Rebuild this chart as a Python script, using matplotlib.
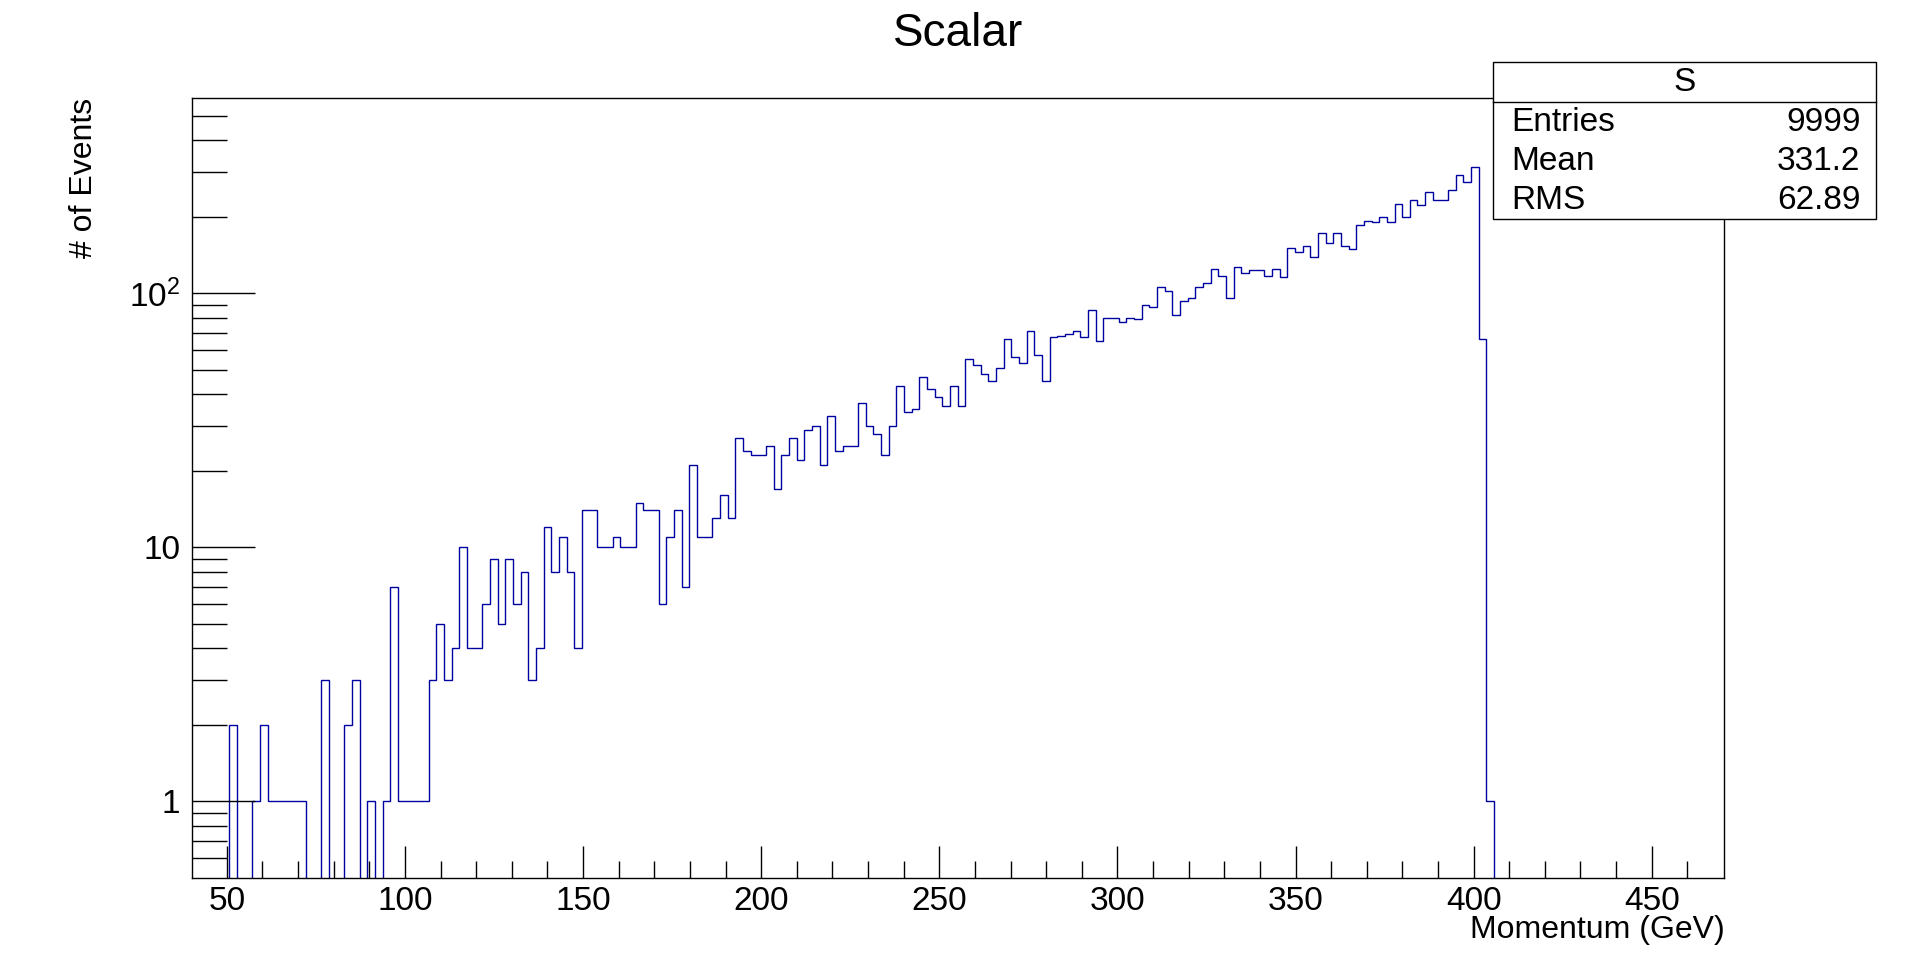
import numpy as np
import matplotlib as mpl
mpl.use('Agg')
import matplotlib.pyplot as plt
from matplotlib.ticker import FixedLocator, FixedFormatter, NullFormatter

plt.rcParams['font.family'] = ['Liberation Sans', 'DejaVu Sans']
plt.rcParams['mathtext.fontset'] = 'custom'
plt.rcParams['mathtext.rm'] = 'Liberation Sans'
plt.rcParams['mathtext.it'] = 'Liberation Sans'

## histogram contents, 165 bins from 50.73
first_edge = 50.73
bin_width = 2.1517
counts = [
    2, 0, 0, 1, 2, 1, 1, 1, 1, 1,
    0, 0, 3, 0, 0, 2, 3, 0, 1, 0,
    1, 7, 1, 1, 1, 1, 3, 5, 3, 4,
    10, 4, 4, 6, 9, 5, 9, 6, 8, 3,
    4, 12, 8, 11, 8, 4, 14, 14, 10, 10,
    11, 10, 10, 15, 14, 14, 6, 11, 14, 7,
    21, 11, 11, 13, 16, 13, 27, 24, 23, 23,
    25, 17, 23, 27, 22, 29, 30, 21, 33, 24,
    25, 25, 37, 30, 28, 23, 30, 43, 34, 35,
    47, 42, 39, 36, 43, 36, 55, 52, 48, 45,
    51, 66, 56, 53, 71, 57, 45, 67, 68, 69,
    71, 67, 86, 65, 80, 80, 77, 80, 79, 90,
    88, 106, 102, 82, 93, 96, 106, 110, 124, 117,
    96, 127, 120, 123, 123, 117, 125, 116, 150, 145,
    153, 139, 173, 157, 173, 154, 149, 186, 193, 191,
    200, 191, 225, 199, 232, 223, 251, 232, 232, 254,
    293, 273, 313, 66, 1,
]
counts = np.array(counts, dtype=float)
edges = first_edge + bin_width * np.arange(len(counts) + 1)

title = 'Scalar'
xlabel = 'Momentum (GeV)'
ylabel = '# of Events'
stats_name = 'S'
stats_rows = [('Entries', '9999'), ('Mean', '331.2'), ('RMS', '62.89')]

fig = plt.figure(figsize=(19.16, 9.75), dpi=100)
ax = fig.add_axes([0.1, 0.1, 0.8, 0.8])

# zero bins go down to the frame, like ROOT
plot_vals = np.where(counts > 0, counts, 1e-3)
ax.stairs(plot_vals, edges, baseline=1e-3, color='#0000a0', linewidth=1.0)

ax.set_yscale('log')
ax.set_xlim(40.1, 470.4)
ax.set_ylim(0.502, 589)

ax.xaxis.set_major_locator(FixedLocator(np.arange(50, 451, 50)))
ax.xaxis.set_minor_locator(FixedLocator(np.arange(50, 470, 10)))
ax.yaxis.set_major_locator(FixedLocator([1, 10, 100]))
ax.yaxis.set_major_formatter(FixedFormatter(['1', '10', r'$10^{2}$']))
minors = [m * 10 ** d for d in (-1, 0, 1, 2) for m in range(2, 10)]
ax.yaxis.set_minor_locator(FixedLocator(minors))
ax.yaxis.set_minor_formatter(NullFormatter())

ax.tick_params(axis='x', which='major', direction='in', length=23, width=1, labelsize=24, pad=6)
ax.tick_params(axis='x', which='minor', direction='in', length=12, width=1)
ax.tick_params(axis='y', which='major', direction='in', length=45, width=1, labelsize=24, pad=8)
ax.tick_params(axis='y', which='minor', direction='in', length=25, width=1)
for s in ax.spines.values():
    s.set_linewidth(1)

fig.text(0.5, 0.965, title, ha='center', va='center', fontsize=33)
fig.text(0.9, 0.046, xlabel, ha='right', va='center', fontsize=23)
fig.text(0.044, 0.9, ylabel, ha='center', va='top', rotation=90, fontsize=23)

## stats box
bx0, bx1, by0, by1 = 0.779, 0.979, 0.775, 0.936
box = plt.Rectangle((bx0, by0), bx1 - bx0, by1 - by0, transform=fig.transFigure,
                    facecolor='white', edgecolor='black', linewidth=1, zorder=5)
fig.add_artist(box)
sep = by1 - 0.041
fig.add_artist(plt.Line2D([bx0, bx1], [sep, sep], transform=fig.transFigure, color='black', linewidth=1, zorder=6))
fig.text((bx0 + bx1) / 2, (by1 + sep) / 2, stats_name, ha='center', va='center', fontsize=24, zorder=7)
row_y = [0.874, 0.834, 0.794]
for (name, val), y in zip(stats_rows, row_y):
    fig.text(bx0 + 0.01, y, name, ha='left', va='center', fontsize=24, zorder=7)
    fig.text(bx1 - 0.008, y, val, ha='right', va='center', fontsize=24, zorder=7)

fig.savefig('out.png', dpi=100)
